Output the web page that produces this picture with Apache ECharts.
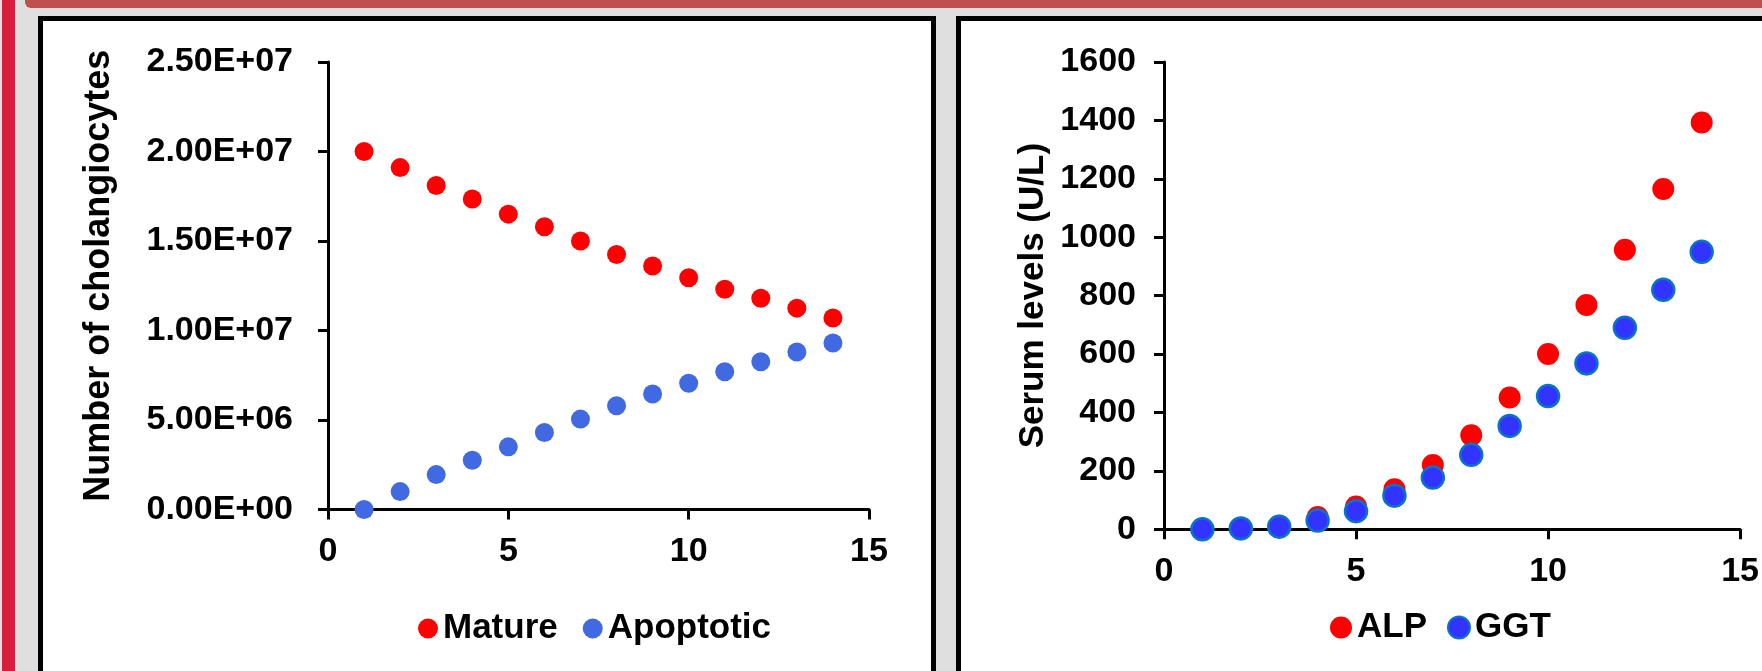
<!DOCTYPE html>
<html><head><meta charset="utf-8">
<script src="https://cdn.jsdelivr.net/npm/echarts@6/dist/echarts.min.js"></script>
<style>
html,body{margin:0;padding:0;width:1762px;height:671px;overflow:hidden;background:#dfdfdf;}
#leftbar{position:absolute;left:2px;top:0;width:13px;height:671px;background:#d81e3c;}
#topbar{position:absolute;left:25px;top:0;width:1760px;height:8px;background:#c0504d;border-bottom-left-radius:6px;}
.panel{position:absolute;top:16px;height:720px;background:#fff;border:5px solid #000;box-sizing:border-box;}
#p1{left:38px;width:898px;}
#p2{left:956px;width:900px;}
#chart{position:absolute;left:0;top:0;width:1762px;height:671px;}
</style></head>
<body>
<div id="leftbar"></div><div id="topbar"></div>
<div class="panel" id="p1"></div><div class="panel" id="p2"></div>
<div id="chart"></div>
<script>
// ---- data ----
const days = [1,2,3,4,5,6,7,8,9,10,11,12,13,14];
const mature = [20.0e6,19.1e6,18.1e6,17.35e6,16.5e6,15.8e6,15.0e6,14.25e6,13.6e6,12.95e6,12.3e6,11.8e6,11.25e6,10.7e6];
const apoptotic = [0,1.0e6,1.95e6,2.75e6,3.5e6,4.3e6,5.05e6,5.8e6,6.45e6,7.05e6,7.7e6,8.25e6,8.8e6,9.3e6];
const alp = [0,4,12,42,78,137,220,322,451,600,768,957,1165,1393];
const ggt = [0,3,9,30,62,115,177,255,354,456,568,690,820,950];
const leftYTickLabels = ['0.00E+00','5.00E+06','1.00E+07','1.50E+07','2.00E+07','2.50E+07'];
const rightYTickLabels = ['0','200','400','600','800','1000','1200','1400','1600'];
const xTickLabels = ['0','5','10','15'];

const FONT = '"Liberation Sans", Arial, sans-serif';
const pts = (ys) => days.map((d,i)=>[d, ys[i]]);

function axisBase(){
  return {
    axisLine:{show:true,onZero:true,lineStyle:{color:'#000',width:3}},
    axisTick:{show:true,inside:false,length:10,lineStyle:{color:'#000',width:3}},
    splitLine:{show:false},
    minorTick:{show:false},
    axisLabel:{show:true,color:'#000',fontSize:34,fontWeight:'bold',fontFamily:FONT}
  };
}
function xAxisCfg(gi, margin){
  const a = axisBase();
  a.axisLabel.margin = margin;
  a.axisLabel.formatter = (v)=> xTickLabels[Math.round(v/5)];
  return Object.assign(a,{type:'value',gridIndex:gi,min:0,max:15,interval:5});
}

const chart = echarts.init(document.getElementById('chart'), null, {renderer:'canvas'});

const yL = axisBase();
yL.axisLabel.margin = 35;
yL.axisLabel.formatter = (v)=> leftYTickLabels[Math.round(v/5e6)];
Object.assign(yL,{type:'value',gridIndex:0,min:0,max:2.5e7,interval:5e6,
  name:'Number of cholangiocytes',nameLocation:'middle',nameRotate:90,nameGap:211,
  nameTextStyle:{fontSize:36,fontWeight:'bold',color:'#000',fontFamily:FONT,padding:[0,0,0,20]}});

const yR = axisBase();
yR.axisLabel.margin = 28;
yR.axisLabel.formatter = (v)=> rightYTickLabels[Math.round(v/200)];
Object.assign(yR,{type:'value',gridIndex:1,min:0,max:1600,interval:200,
  name:'Serum levels (U/L)',nameLocation:'middle',nameRotate:90,nameGap:113,
  nameTextStyle:{fontSize:35,fontWeight:'bold',color:'#000',fontFamily:FONT}});

const legendText = {fontSize:35,fontWeight:'bold',color:'#000',fontFamily:FONT};

chart.setOption({
  backgroundColor:'transparent',
  animation:false,
  grid:[
    {left:328,top:62,width:541,height:447.5,containLabel:false},
    {left:1164,top:62,width:588,height:467.3,containLabel:false}
  ],
  xAxis:[xAxisCfg(0,25), xAxisCfg(1,25)],
  yAxis:[yL,yR],
  legend:[
    {data:['Mature','Apoptotic'],left:418,top:611,padding:0,itemWidth:20,itemHeight:20,itemGap:25,
     icon:'circle',textStyle:legendText},
    {data:['ALP','GGT'],left:1330,top:610,padding:0,itemWidth:22,itemHeight:22,itemGap:20,
     icon:'circle',textStyle:legendText}
  ],
  series:[
    {name:'Mature',type:'scatter',xAxisIndex:0,yAxisIndex:0,symbol:'circle',symbolSize:19,
     itemStyle:{color:'#FF0000',opacity:1},data:pts(mature)},
    {name:'Apoptotic',type:'scatter',xAxisIndex:0,yAxisIndex:0,symbol:'circle',symbolSize:19,
     itemStyle:{color:'#4169E1',opacity:1},data:pts(apoptotic)},
    {name:'ALP',type:'scatter',xAxisIndex:1,yAxisIndex:1,symbol:'circle',symbolSize:22,
     itemStyle:{color:'#FF0000',opacity:1},data:pts(alp)},
    {name:'GGT',type:'scatter',xAxisIndex:1,yAxisIndex:1,symbol:'circle',symbolSize:22,
     itemStyle:{color:'#3333FF',borderColor:'#0B72C9',borderWidth:2.5,opacity:1},data:pts(ggt)}
  ]
});
</script>
</body></html>
